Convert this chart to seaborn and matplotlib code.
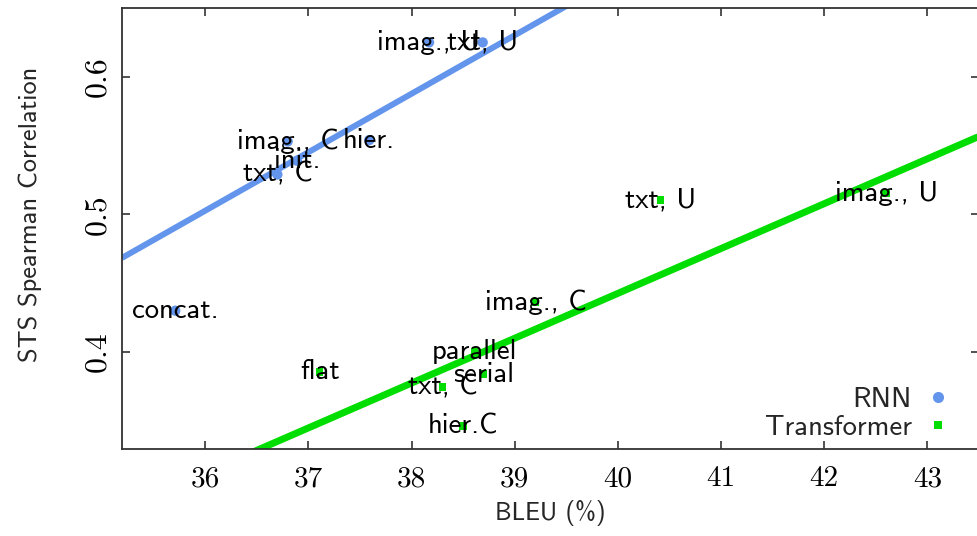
import matplotlib

matplotlib.use("Agg")
import matplotlib.pyplot as plt
import numpy as np
import pandas as pd
import seaborn as sns
from matplotlib.lines import Line2D
from matplotlib.ticker import FuncFormatter

# RNN systems
rnn_labels = ["concat.", "txt, C", "imag., C", "init.", "hier.", "imag., U", "txt, U"]
rnn_bleu = [35.71, 36.70, 36.80, 36.89, 37.59, 38.17, 38.69]
rnn_sts = [0.430, 0.529, 0.553, 0.539, 0.554, 0.625, 0.625]

# Transformer systems
tr_labels = ["flat", "txt, C", "hier.C", "parallel", "serial", "imag., C", "txt, U", "imag., U"]
tr_bleu = [37.11, 38.30, 38.50, 38.61, 38.70, 39.20, 40.41, 42.60]
tr_sts = [0.3855, 0.3745, 0.3462, 0.400, 0.384, 0.4364, 0.5105, 0.515]

# trend lines (slope, intercept)
rnn_fit = (0.04251, -1.0277)
tr_fit = (0.0326, -0.8614)

BLUE = "#6495ed"
GREEN = "#00dd00"
SANS = "cmss10"
SERIF = "cmr10"

sns.set_style("ticks")
plt.rcParams["axes.unicode_minus"] = False

df = pd.DataFrame(
    {
        "bleu": rnn_bleu + tr_bleu,
        "sts": rnn_sts + tr_sts,
        "label": rnn_labels + tr_labels,
        "model": ["RNN"] * len(rnn_bleu) + ["Transformer"] * len(tr_bleu),
    }
)

fig = plt.figure(figsize=(9.77, 5.36), dpi=100)
ax = fig.add_axes([122 / 977, 87 / 536, 857 / 977, 441 / 536])

xlim = (35.194, 43.5)
ylim = (0.3295, 0.650)
xs = np.array(xlim)
ax.plot(xs, rnn_fit[0] * xs + rnn_fit[1], color=BLUE, lw=4.3, solid_capstyle="butt", zorder=2)
ax.plot(xs, tr_fit[0] * xs + tr_fit[1], color=GREEN, lw=5.0, solid_capstyle="butt", zorder=2)

sns.scatterplot(
    data=df,
    x="bleu",
    y="sts",
    hue="model",
    style="model",
    palette={"RNN": BLUE, "Transformer": GREEN},
    markers={"RNN": "o", "Transformer": "s"},
    size="model",
    sizes={"RNN": 55, "Transformer": 28},
    linewidth=0,
    legend=False,
    ax=ax,
    zorder=3,
)

for _, row in df.iterrows():
    ax.text(row["bleu"], row["sts"], row["label"], ha="center", va="center",
            family=SANS, fontsize=20.7, color="black", zorder=4)

ax.set_xlim(*xlim)
ax.set_ylim(*ylim)
ax.set_xticks(np.arange(36, 44))
ax.set_yticks([0.4, 0.5, 0.6])
ax.xaxis.set_major_formatter(FuncFormatter(lambda v, _: f"{v:g}"))
ax.yaxis.set_major_formatter(FuncFormatter(lambda v, _: f"{v:g}"))
ax.tick_params(direction="in", length=6, width=1.2, top=True, right=True,
               colors="#333333", labelcolor="black")
ax.tick_params(axis="x", pad=12, labelsize=21)
ax.tick_params(axis="y", pad=8, labelsize=23)
for t in ax.get_xticklabels() + ax.get_yticklabels():
    t.set_family(SERIF)
for t in ax.get_yticklabels():
    t.set_rotation(90)
    t.set_va("center")
for s in ax.spines.values():
    s.set_linewidth(1.3)
    s.set_color("#333333")

ax.set_xlabel("BLEU (%)", family=SANS, fontsize=18, labelpad=6)
ax.set_ylabel("STS Spearman Correlation", family=SANS, fontsize=19)
ax.yaxis.set_label_coords(-0.093, 0.531)

handles = [
    Line2D([], [], ls="none", marker="o", ms=8, color=BLUE, mew=0, label="RNN"),
    Line2D([], [], ls="none", marker="s", ms=5.5, color=GREEN, mew=0, label="Transformer"),
]
leg = ax.legend(handles=handles, loc="lower right", bbox_to_anchor=(0.9685, 0.021),
                frameon=False, markerfirst=False, borderaxespad=0, borderpad=0,
                handlelength=1.0, handletextpad=0.39, labelspacing=0.1,
                prop={"family": SANS, "size": 20.7})
for t in leg.get_texts():
    t.set_ha("right")

fig.savefig("out.png", dpi=100)
